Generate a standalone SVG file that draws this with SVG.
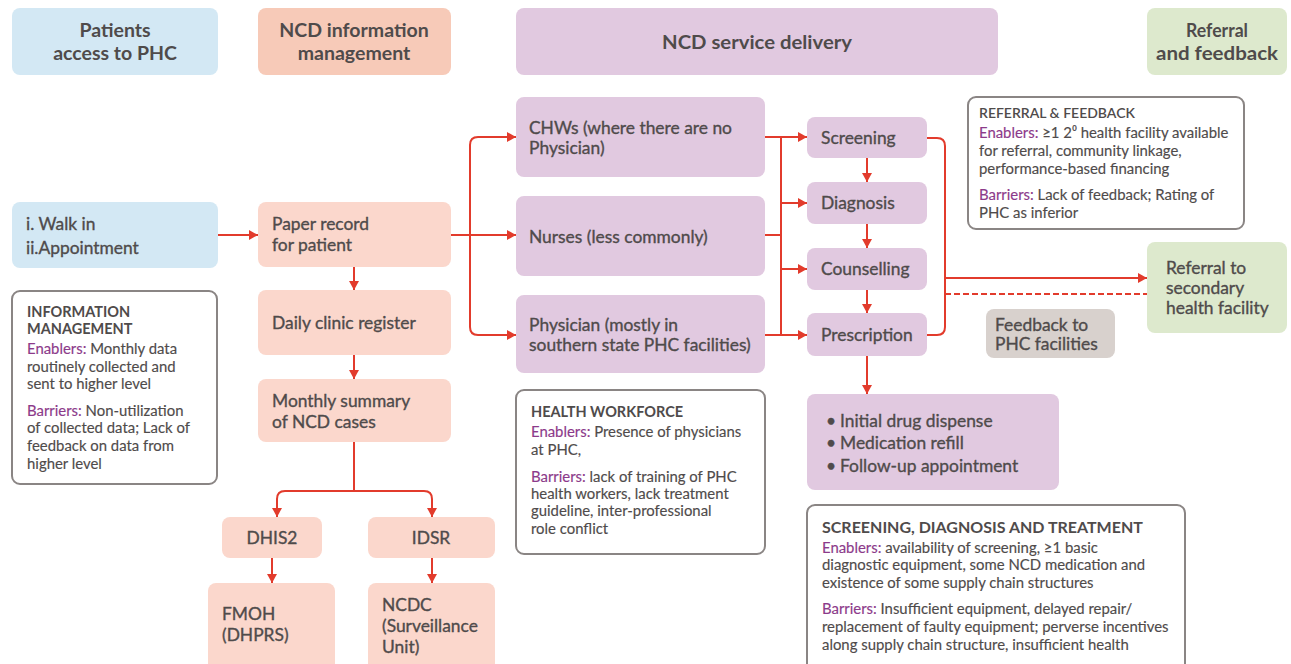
<svg xmlns="http://www.w3.org/2000/svg" width="1291" height="664" viewBox="0 0 1291 664">
<style>
text{font-family:Lato,"Open Sans","Liberation Sans",sans-serif;fill:#4f4b4b}
.h{font-weight:bold;font-size:19.5px;text-anchor:middle}
.b{font-size:17.4px;stroke:#4f4b4b;stroke-width:0.35}
.s{font-size:14.9px;stroke:#4f4b4b;stroke-width:0.15}
.t{font-size:14.5px;font-weight:bold}
.e{fill:#8c3a8a;stroke:#8c3a8a}
.blue{fill:#d3e8f4}
.sal{fill:#fbd7cc}
.salh{fill:#f7cab8}
.pur{fill:#e1c9e0}
.grn{fill:#dde9cd}
.gry{fill:#d8d1cd}
.box{fill:#fff;stroke:#8a8584;stroke-width:2}
.c{fill:none;stroke:#e23b2c;stroke-width:2}
.d{fill:none;stroke:#e23b2c;stroke-width:2;stroke-dasharray:6 3}
.a{marker-end:url(#ar)}
</style>
<defs>
<marker id="ar" markerUnits="userSpaceOnUse" markerWidth="10" markerHeight="10" refX="9" refY="5" orient="auto">
<path d="M0,0 L9,5 L0,10 z" fill="#e23b2c"/>
</marker>
</defs>

<g id="hdr-patients"><rect class="blue" x="12" y="8" width="206" height="67" rx="8"/><text class="h" x="115" y="37">Patients</text><text class="h" x="115" y="60">access to PHC</text></g>
<g id="hdr-info"><rect class="salh" x="258" y="8" width="193" height="67" rx="8"/><text class="h" x="354" y="37">NCD information</text><text class="h" x="354" y="60">management</text></g>
<g id="hdr-service"><rect class="pur" x="516" y="8" width="482" height="67" rx="8"/><text class="h" x="757" y="49" textLength="190" lengthAdjust="spacingAndGlyphs">NCD service delivery</text></g>
<g id="hdr-referral"><rect class="grn" x="1147" y="8" width="140" height="67" rx="8"/><text class="h" x="1217" y="37" textLength="62" lengthAdjust="spacingAndGlyphs">Referral</text><text class="h" x="1217" y="60" textLength="122" lengthAdjust="spacingAndGlyphs">and feedback</text></g>

<g id="walkin"><rect class="blue" x="12" y="202" width="206" height="66" rx="8"/><text class="b" x="26" y="230">i. Walk in</text><text class="b" x="26" y="254">ii.Appointment</text></g>

<g id="infobox"><rect class="box" x="12" y="291" width="205" height="193" rx="8"/>
<text class="t" x="27" y="317">INFORMATION</text>
<text class="t" x="27" y="334">MANAGEMENT</text>
<text class="s" x="27" y="354"><tspan class="e">Enablers:</tspan> Monthly data</text>
<text class="s" x="27" y="372">routinely collected and</text>
<text class="s" x="27" y="389">sent to higher level</text>
<text class="s" x="27" y="416"><tspan class="e">Barriers:</tspan> Non-utilization</text>
<text class="s" x="27" y="433">of collected data; Lack of</text>
<text class="s" x="27" y="451">feedback on data from</text>
<text class="s" x="27" y="469">higher level</text>
</g>

<g id="paper"><rect class="sal" x="258" y="202" width="193" height="65" rx="8"/><text class="b" x="272" y="230">Paper record</text><text class="b" x="272" y="251">for patient</text></g>
<g id="daily"><rect class="sal" x="258" y="290" width="193" height="65" rx="8"/><text class="b" x="272" y="329">Daily clinic register</text></g>
<g id="monthly"><rect class="sal" x="258" y="379" width="193" height="63" rx="8"/><text class="b" x="272" y="407">Monthly summary</text><text class="b" x="272" y="428">of NCD cases</text></g>
<g id="dhis2"><rect class="sal" x="222" y="517" width="100" height="41" rx="8"/><text class="b" x="272" y="544" text-anchor="middle">DHIS2</text></g>
<g id="idsr"><rect class="sal" x="368" y="517" width="127" height="41" rx="8"/><text class="b" x="431" y="544" text-anchor="middle">IDSR</text></g>
<g id="fmoh"><rect class="sal" x="208" y="583" width="127" height="95" rx="8"/><text class="b" x="222" y="620">FMOH</text><text class="b" x="222" y="641">(DHPRS)</text></g>
<g id="ncdc"><rect class="sal" x="368" y="583" width="127" height="95" rx="8"/><text class="b" x="382" y="611">NCDC</text><text class="b" x="382" y="632">(Surveillance</text><text class="b" x="382" y="653">Unit)</text></g>

<g id="chws"><rect class="pur" x="516" y="97" width="249" height="80" rx="8"/><text class="b" x="529" y="134">CHWs (where there are no</text><text class="b" x="529" y="154">Physician)</text></g>
<g id="nurses"><rect class="pur" x="516" y="196" width="249" height="80" rx="8"/><text class="b" x="529" y="243">Nurses (less commonly)</text></g>
<g id="physician"><rect class="pur" x="516" y="295" width="249" height="78" rx="8"/><text class="b" x="529" y="331">Physician (mostly in</text><text class="b" x="529" y="351">southern state PHC facilities)</text></g>

<g id="workforce"><rect class="box" x="516" y="390" width="249" height="164" rx="8"/>
<text class="t" x="531" y="417">HEALTH WORKFORCE</text>
<text class="s" x="531" y="437"><tspan class="e">Enablers:</tspan> Presence of physicians</text>
<text class="s" x="531" y="455">at PHC,</text>
<text class="s" x="531" y="482"><tspan class="e">Barriers:</tspan> lack of training of PHC</text>
<text class="s" x="531" y="499">health workers, lack treatment</text>
<text class="s" x="531" y="516">guideline, inter-professional</text>
<text class="s" x="531" y="534">role conflict</text>
</g>

<g id="screening"><rect class="pur" x="807" y="117" width="120" height="41" rx="8"/><text class="b" x="821" y="144">Screening</text></g>
<g id="diagnosis"><rect class="pur" x="807" y="182" width="120" height="42" rx="8"/><text class="b" x="821" y="209">Diagnosis</text></g>
<g id="counselling"><rect class="pur" x="807" y="248" width="120" height="42" rx="8"/><text class="b" x="821" y="275">Counselling</text></g>
<g id="prescription"><rect class="pur" x="807" y="313" width="120" height="43" rx="8"/><text class="b" x="821" y="341">Prescription</text></g>

<g id="drug"><rect class="pur" x="807" y="394" width="252" height="96" rx="8"/>
<text class="b" x="826" y="427">•</text><text class="b" x="840" y="427">Initial drug dispense</text>
<text class="b" x="826" y="449">•</text><text class="b" x="840" y="449">Medication refill</text>
<text class="b" x="826" y="472">•</text><text class="b" x="840" y="472">Follow-up appointment</text>
</g>

<g id="sdt"><rect class="box" x="807" y="505" width="378" height="175" rx="8"/>
<text x="822" y="533" style="font-size:16px;font-weight:bold">SCREENING, DIAGNOSIS AND TREATMENT</text>
<text class="s" x="822" y="553"><tspan class="e">Enablers:</tspan> availability of screening,  ≥1 basic</text>
<text class="s" x="822" y="570">diagnostic equipment, some NCD medication and</text>
<text class="s" x="822" y="588">existence of some supply chain structures</text>
<text class="s" x="822" y="614"><tspan class="e">Barriers:</tspan> Insufficient equipment, delayed repair/</text>
<text class="s" x="822" y="632">replacement of faulty equipment; perverse incentives</text>
<text class="s" x="822" y="650">along supply chain structure, insufficient health</text>
</g>

<g id="reffb"><rect class="box" x="968" y="97" width="276" height="132" rx="8"/>
<text x="979" y="118" style="font-size:14px;font-weight:600">REFERRAL &amp; FEEDBACK</text>
<text class="s" x="979" y="138"><tspan class="e">Enablers:</tspan> ≥1 2⁰ health facility available</text>
<text class="s" x="979" y="156">for referral, community linkage,</text>
<text class="s" x="979" y="174">performance-based financing</text>
<text class="s" x="979" y="200"><tspan class="e">Barriers:</tspan> Lack of feedback; Rating of</text>
<text class="s" x="979" y="218">PHC as inferior</text>
</g>

<g id="referral"><rect class="grn" x="1147" y="242" width="140" height="91" rx="8"/><text class="b" x="1166" y="274">Referral to</text><text class="b" x="1166" y="294">secondary</text><text class="b" x="1166" y="314">health facility</text></g>
<g id="feedback"><rect class="gry" x="986" y="309" width="129" height="49" rx="8"/><text class="b" x="995" y="331">Feedback to</text><text class="b" x="995" y="350">PHC facilities</text></g>

<g id="connectors">
<path class="c a" d="M218,235 H258"/>
<path class="c a" d="M354,267 V290"/>
<path class="c a" d="M354,355 V379"/>
<path class="c" d="M354,442 V491"/>
<path class="c a" d="M354,491 H285 Q277,491 277,499 V517"/>
<path class="c a" d="M354,491 H424 Q432,491 432,499 V517"/>
<path class="c a" d="M272,558 V583"/>
<path class="c a" d="M432,558 V583"/>
<path class="c a" d="M451,235 H516"/>
<path class="c a" d="M470,235 V145 Q470,137 478,137 H516"/>
<path class="c a" d="M470,235 V327 Q470,335 478,335 H516"/>
<path class="c a" d="M765,137 H807"/>
<path class="c" d="M781,137 V335"/>
<path class="c" d="M765,235 H781"/>
<path class="c a" d="M765,335 H807"/>
<path class="c a" d="M781,203 H807"/>
<path class="c a" d="M781,269 H807"/>
<path class="c a" d="M867,158 V182"/>
<path class="c a" d="M867,224 V248"/>
<path class="c a" d="M867,290 V313"/>
<path class="c a" d="M867,356 V394"/>
<path class="c" d="M927,138 H937 Q945,138 945,146 V327 Q945,335 937,335 H927"/>
<path class="c a" d="M945,278 H1147"/>
<path class="d" d="M945,294 H1147"/>
</g>
</svg>
